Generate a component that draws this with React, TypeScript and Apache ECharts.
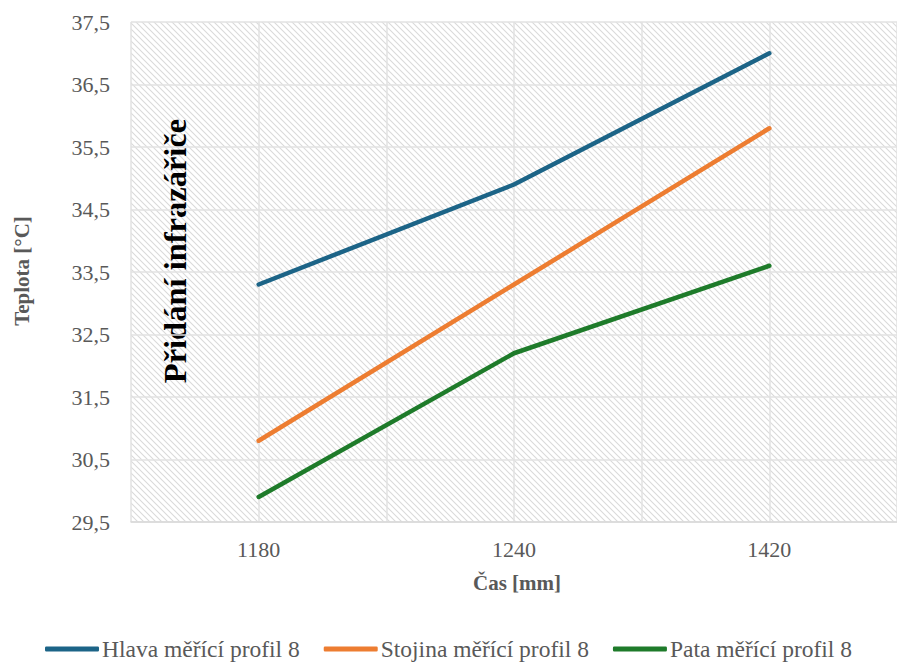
import React, { useEffect, useRef } from "react";
import * as echarts from "echarts";

const categories = ["1180", "1240", "1420"];
const hlava = [33.3, 34.9, 37.0];
const stojina = [30.8, 33.3, 35.8];
const pata = [29.9, 32.2, 33.6];
const seriesNames = ["Hlava měřící profil 8", "Stojina měřící profil 8", "Pata měřící profil 8"];
const seriesColors = ["#1c6487", "#ed7d31", "#1e7b2a"];
const yMin = 29.5;
const yMax = 37.5;
const yStep = 1;
const yTitle = "Teplota [°C]";
const xTitle = "Čas [mm]";
const annotation = "Přidání infrazářiče";

const FONT = "Liberation Serif";

function makeHatch(): string {
  const c = document.createElement("canvas");
  const s = 6;
  c.width = s;
  c.height = s;
  const ctx = c.getContext("2d")!;
  ctx.fillStyle = "#ffffff";
  ctx.fillRect(0, 0, s, s);
  ctx.strokeStyle = "#dadada";
  ctx.lineWidth = 1.1;
  ctx.beginPath();
  ctx.moveTo(-1, -1);
  ctx.lineTo(s + 1, s + 1);
  ctx.moveTo(-1, s - 1);
  ctx.lineTo(1, s + 1);
  ctx.moveTo(s - 1, -1);
  ctx.lineTo(s + 1, 1);
  ctx.stroke();
  return c.toDataURL();
}

export default function App() {
  const ref = useRef<HTMLDivElement>(null);
  useEffect(() => {
    if (!ref.current) return;
    const chart = echarts.init(ref.current, null, { renderer: "svg" });
    const hatch = makeHatch();
    const data = [hlava, stojina, pata];
    chart.setOption({
      animation: false,
      backgroundColor: "#ffffff",
      textStyle: { fontFamily: FONT },
      grid: {
        left: 131,
        top: 22,
        width: 774,
        height: 500,
        show: true,
        borderWidth: 0,
        backgroundColor: { image: hatch, repeat: "repeat" } as any,
      },
      xAxis: [
        {
          type: "category",
          data: categories,
          boundaryGap: true,
          axisLine: { show: true, lineStyle: { color: "#d9d9d9", width: 1.5 } },
          axisTick: { show: false },
          splitLine: { show: false },
          axisLabel: {
            color: "#595959",
            fontFamily: FONT,
            fontSize: 22,
            margin: 16,
          },
        },
        {
          type: "value",
          min: 0,
          max: 6,
          interval: 1,
          position: "bottom",
          axisLine: { show: false },
          axisTick: { show: false },
          axisLabel: { show: false },
          splitLine: { show: true, lineStyle: { color: "#e2e2e2", width: 1.5 } },
        },
      ],
      yAxis: {
        type: "value",
        min: yMin,
        max: yMax,
        interval: yStep,
        axisLine: { show: false },
        axisTick: { show: false },
        splitLine: { show: true, lineStyle: { color: "#e2e2e2", width: 1.5 } },
        axisLabel: {
          color: "#595959",
          fontFamily: FONT,
          fontSize: 22,
          margin: 21,
          formatter: (v: number) => v.toFixed(1).replace(".", ","),
        },
      },
      legend: {
        bottom: 0,
        left: "center",
        itemWidth: 54,
        itemHeight: 5,
        itemGap: 24,
        icon: "roundRect",
        textStyle: { color: "#595959", fontFamily: FONT, fontSize: 23.5, padding: [0, 0, 0, -2] },
        data: seriesNames,
      },
      series: seriesNames.map((name, i) => ({
        name,
        type: "line",
        xAxisIndex: 0,
        data: data[i],
        showSymbol: false,
        symbol: "none",
        itemStyle: { color: seriesColors[i] },
        lineStyle: { color: seriesColors[i], width: 4.5, cap: "round", join: "round" },
      })),
      graphic: [
        {
          type: "text",
          x: 22,
          y: 271,
          rotation: Math.PI / 2,
          style: {
            text: yTitle,
            fill: "#595959",
            fontFamily: FONT,
            fontWeight: "bold",
            fontSize: 21,
            align: "center",
            verticalAlign: "middle",
          },
        },
        {
          type: "text",
          x: 517,
          y: 583,
          style: {
            text: xTitle,
            fill: "#595959",
            fontFamily: FONT,
            fontWeight: "bold",
            fontSize: 21,
            align: "center",
            verticalAlign: "middle",
          },
        },
        {
          type: "text",
          x: 175,
          y: 251,
          rotation: Math.PI / 2,
          style: {
            text: annotation,
            fill: "#000000",
            fontFamily: FONT,
            fontWeight: "bold",
            fontSize: 32.5,
            align: "center",
            verticalAlign: "middle",
          },
        },
      ],
    });
    return () => chart.dispose();
  }, []);
  return (
    <div
      ref={ref}
      style={{ position: "fixed", left: 0, top: 0, width: 897, height: 666 }}
    />
  );
}
